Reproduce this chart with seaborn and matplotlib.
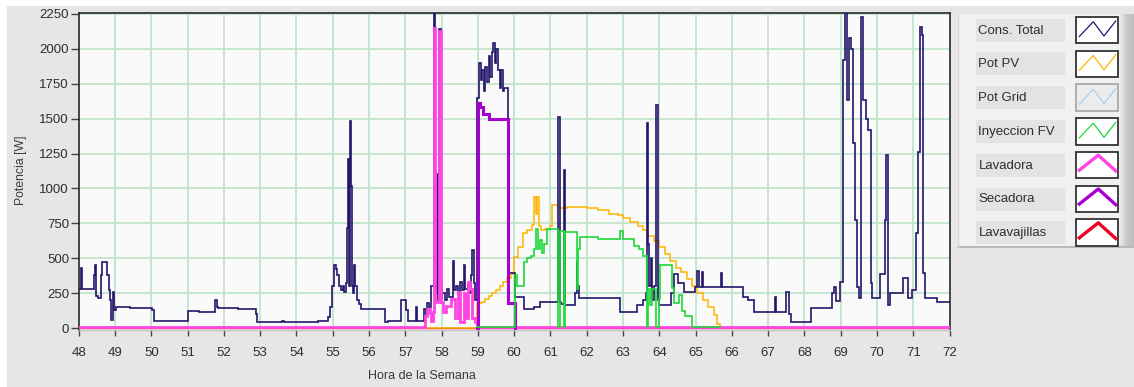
import matplotlib
matplotlib.use("Agg")
import matplotlib.pyplot as plt
from matplotlib.patches import Rectangle
from matplotlib.transforms import offset_copy
import numpy as np
import pandas as pd
import seaborn as sns

# ---------------- data: hour of the week -> power [W] (step changes) ----------------
cons_hora = [48.00, 48.06, 48.10, 48.42, 48.45, 48.48, 48.52, 48.62, 48.65, 48.78,
             48.82, 48.86, 48.90, 48.94, 48.98, 49.02, 49.40, 50.02, 50.08, 51.00,
             51.30, 51.76, 51.80, 51.84, 52.40, 52.50, 52.88, 52.92, 53.00, 53.60,
             53.65, 54.00, 54.30, 54.60, 54.86, 54.92, 54.98, 55.03, 55.08, 55.12,
             55.16, 55.22, 55.28, 55.32, 55.36, 55.39, 55.41, 55.44, 55.47, 55.49,
             55.52, 55.55, 55.58, 55.62, 55.66, 55.72, 55.78, 56.44, 56.53, 56.88,
             57.02, 57.08, 57.30, 57.33, 57.52, 57.56, 57.60, 57.65, 57.70, 57.78,
             57.83, 57.86, 57.90, 57.94, 57.97, 58.00, 58.02, 58.08, 58.14, 58.20,
             58.30, 58.33, 58.40, 58.45, 58.50, 58.55, 58.62, 58.65, 58.72, 58.78,
             58.82, 58.85, 58.88, 58.93, 58.97, 59.03, 59.08, 59.12, 59.16, 59.20,
             59.25, 59.30, 59.34, 59.38, 59.42, 59.46, 59.50, 59.55, 59.60, 59.64,
             59.68, 59.72, 59.82, 60.03, 60.26, 60.45, 60.55, 60.72, 61.20, 61.22,
             61.25, 61.30, 61.37, 61.40, 61.68, 61.72, 61.74, 61.78, 62.92, 63.38,
             63.55, 63.62, 63.67, 63.69, 63.72, 63.76, 63.80, 63.86, 63.92, 63.95,
             63.98, 64.33, 64.40, 64.52, 64.67, 64.99, 65.05, 65.08, 65.18, 65.21,
             65.70, 65.73, 66.30, 66.45, 66.62, 67.18, 67.21, 67.50, 67.56, 67.62,
             68.18, 68.76, 68.82, 68.86, 68.99, 69.07, 69.13, 69.18, 69.24, 69.29,
             69.34, 69.39, 69.44, 69.49, 69.57, 69.62, 69.70, 69.76, 69.82, 69.87,
             70.08, 70.21, 70.26, 70.29, 70.37, 70.72, 70.86, 70.95, 71.08, 71.13,
             71.18, 71.23, 71.28, 71.32, 71.66, 72.00]
cons_w = [280, 430, 280, 380, 450, 230, 215, 380, 470, 380,
          270, 200, 57, 260, 130, 152, 145, 130, 52, 125,
          115, 200, 150, 145, 135, 140, 100, 45, 40, 50,
          40, 45, 40, 50, 80, 150, 300, 450, 420, 380,
          300, 270, 300, 260, 320, 720, 1210, 300, 1480, 1020,
          300, 250, 450, 300, 200, 170, 140, 45, 52, 200,
          130, 50, 150, 50, 140, 100, 180, 150, 300, 2260,
          250, 1100, 200, 2140, 300, 200, 250, 200, 280, 220,
          480, 270, 300, 250, 330, 270, 450, 280, 300, 250,
          380, 560, 320, 200, 1650, 1900, 1780, 1850, 1700, 1870,
          1760, 1950, 1800, 1980, 2040, 1900, 2000, 1850, 1720, 1850,
          1700, 1720, 395, 225, 140, 135, 150, 185, 500, 1510,
          185, 170, 1130, 165, 250, 480, 300, 213, 117, 165,
          200, 250, 1470, 600, 300, 500, 200, 300, 1600, 200,
          165, 250, 390, 320, 260, 296, 410, 296, 400, 296,
          395, 296, 224, 200, 117, 224, 117, 260, 100, 45,
          141, 250, 296, 193, 332, 1920, 2260, 1634, 2076, 2000,
          1325, 774, 296, 215, 2231, 1634, 1500, 1420, 320, 215,
          390, 774, 1240, 165, 250, 356, 215, 270, 678, 1263,
          2160, 2100, 393, 213, 189, 189]

pv_hora = [48.00, 58.97, 59.10, 59.20, 59.30, 59.40, 59.50, 59.60, 59.70, 59.80,
           59.90, 60.00, 60.10, 60.23, 60.36, 60.50, 60.55, 60.60, 60.64, 60.68,
           60.75, 60.85, 60.98, 61.04, 61.20, 61.45, 61.70, 62.00, 62.30, 62.60,
           62.85, 63.00, 63.20, 63.40, 63.55, 63.70, 63.85, 64.00, 64.15, 64.30,
           64.45, 64.60, 64.75, 64.90, 65.05, 65.20, 65.35, 65.50, 65.60, 65.66,
           72.00]
pv_w = [0, 178, 190, 210, 230, 250, 270, 300, 330, 360,
        390, 511, 583, 680, 700, 740, 941, 820, 941, 730,
        700, 710, 730, 881, 860, 870, 865, 860, 845, 820,
        810, 790, 760, 730, 700, 660, 620, 580, 530, 480,
        430, 400, 350, 300, 250, 200, 150, 90, 30, 0,
        0]

iny_hora = [58.97, 60.03, 60.08, 60.26, 60.35, 60.45, 60.55, 60.60, 60.65, 60.70,
            60.76, 60.82, 60.90, 61.22, 61.25, 61.38, 61.41, 61.72, 61.76, 61.80,
            62.30, 62.92, 63.00, 63.30, 63.45, 63.55, 63.66, 63.69, 63.75, 63.80,
            63.92, 63.98, 64.03, 64.35, 64.40, 64.55, 64.63, 64.72, 64.90, 65.66]
iny_w = [0, 368, 296, 465, 490, 510, 560, 702, 560, 620,
         530, 590, 700, 0, 690, 0, 680, 272, 560, 643,
         630, 690, 628, 580, 560, 506, 0, 272, 157, 272,
         0, 200, 440, 275, 172, 229, 115, 81, 0, 0]

lav_hora = [48.00, 57.55, 57.60, 57.68, 57.72, 57.76, 57.80, 57.83, 57.94, 57.98,
            58.05, 58.12, 58.25, 58.37, 58.45, 58.50, 58.62, 58.66, 58.72, 58.78,
            58.83, 58.93, 58.97, 72.00]
lav_w = [0, 81, 129, 100, 45, 107, 2140, 180, 2120, 180,
         107, 150, 200, 64, 250, 35, 243, 64, 320, 272,
         64, 35, 0, 0]

sec_hora = [58.98, 58.99, 59.05, 59.15, 59.30, 59.82, 60.03]
sec_w = [0, 1610, 1580, 1530, 1500, 178, 0]

vaj_hora = [48.00, 72.00]
vaj_w = [0, 0]

series_names = ["Cons. Total", "Pot PV", "Pot Grid", "Inyeccion FV",
                "Lavadora", "Secadora", "Lavavajillas"]
series_colors = ["#24156a", "#ffb400", "#a9cdf0", "#1fd83a",
                 "#ff45e2", "#a800d0", "#ee0022"]

x_ticks = list(range(48, 73))
y_ticks = list(range(0, 2251, 250))

# ---------------- figure ----------------
plt.rcParams["font.family"] = ["Liberation Sans", "DejaVu Sans"]
W, H = 1134, 387
fig = plt.figure(figsize=(W / 100, H / 100), dpi=100)
fig.patch.set_facecolor("white")
fig.patches.append(Rectangle((7 / W, 0), 1, 1 - 6 / H, transform=fig.transFigure,
                             fc="#e6e6e6", ec="none", zorder=-10))

left_px, right_px, top_px, bot_px = 78.8, 949.6, 12.7, 330.0
ax = fig.add_axes([left_px / W, 1 - bot_px / H, (right_px - left_px) / W,
                   (bot_px - top_px) / H])
ax.set_facecolor("#fafafa")


def step_line(hora, w, color, lw, z, dy=0.0):
    df = pd.DataFrame({"hora": hora, "w": w})
    n_before = len(ax.lines)
    sns.lineplot(data=df, x="hora", y="w", estimator=None, sort=False,
                 drawstyle="steps-post", color=color, lw=lw, ax=ax, legend=False)
    line = ax.lines[n_before]
    line.set_zorder(z)
    line.set_solid_joinstyle("miter")
    if dy:
        line.set_transform(offset_copy(ax.transData, fig=fig, x=0, y=dy, units="dots"))


# dishwasher stays at zero all along: it sits under the PV trace
step_line(vaj_hora, vaj_w, series_colors[6], 1.0, 1.5)
step_line(pv_hora, pv_w, series_colors[1], 1.1, 2)
step_line(cons_hora, cons_w, series_colors[0], 1.2, 3)
step_line(lav_hora, lav_w, series_colors[4], 2.0, 4, dy=1.2)
step_line(sec_hora, sec_w, series_colors[5], 2.2, 5)
step_line(iny_hora, iny_w, series_colors[3], 1.2, 6, dy=1.2)

ax.set_xlim(48, 72)
ax.set_ylim(-14, 2259)
ax.set_xticks(x_ticks)
ax.set_yticks(y_ticks)
ax.grid(True, color="#c2e4cb", lw=1.3, zorder=0)
ax.set_axisbelow(True)
ax.set_xlabel("")
ax.set_ylabel("")

for side in ["left", "top", "right"]:
    ax.spines[side].set_color("#2b2b2b")
    ax.spines[side].set_linewidth(1.2)
ax.spines["bottom"].set_color("#c4c4c4")
ax.spines["bottom"].set_linewidth(1.0)

ax.tick_params(axis="y", direction="out", length=5.5, width=1.0, color="#444444",
               pad=1.5, labelsize=9.5, labelcolor="#2e2e2e")
ax.tick_params(axis="x", direction="out", length=4.5, width=1.0, color="#444444",
               pad=7.5, labelsize=9.5, labelcolor="#2e2e2e")

fig.text(21 / W, 1 - 170 / H, "Potencia [W]", rotation=90, ha="center", va="center",
         fontsize=8.8, color="#3a3a3a")
fig.text(422 / W, 1 - 376 / H, "Hora de la Semana", ha="center", va="center",
         fontsize=9, color="#3a3a3a")

# ---------------- legend panel (drawn in figure pixel units) ----------------
lx0, lx1, ly0, ly1 = 957, 1134, 14, 248
lg = fig.add_axes([lx0 / W, 1 - ly1 / H, (lx1 - lx0) / W, (ly1 - ly0) / H])
lg.set_xlim(lx0, lx1)
lg.set_ylim(ly1, ly0)
lg.axis("off")
lg.add_patch(Rectangle((lx0, ly0), lx1 - lx0, ly1 - ly0, fc="#f1f1f1", ec="none"))
grad = np.linspace(0, 1, 40)[None, :]
lg.imshow(grad, extent=(1119, 1134, ly1, ly0), cmap=matplotlib.colors.LinearSegmentedColormap.from_list(
    "bevel", ["#f1f1f1", "#c9c9c9", "#bdbdbd"]), aspect="auto", zorder=1)
lg.plot([lx0, lx1], [ly1 - 1, ly1 - 1], color="#b9b9b9", lw=1.5, zorder=2)
lg.plot([lx0 + 0.5, lx0 + 0.5], [ly0, ly1], color="#d6d6d6", lw=1, zorder=2)
lg.set_xlim(lx0, lx1)
lg.set_ylim(ly1, ly0)

row_step = 33.8
for i, (name, col) in enumerate(zip(series_names, series_colors)):
    yc = 30 + i * row_step
    lg.add_patch(Rectangle((976, yc - 11.5), 89, 23, fc="#e3e3e3", ec="none", zorder=2))
    lg.text(978.5, yc + 0.5, name, ha="left", va="center", fontsize=9.5, color="#2e2e2e",
            zorder=3)
    disabled = name == "Pot Grid"
    lg.add_patch(Rectangle((1076, yc - 13.3), 42, 26.6,
                           fc="#ececec" if disabled else "white",
                           ec="#a9a9a9" if disabled else "#333333", lw=1.3, zorder=3))
    if i < 4:
        xs = [1079.3, 1093.3, 1104.0, 1115.7]
        ys = [yc + 6.5, yc - 8.3, yc + 6.0, yc - 9.0]
        lg.plot(xs, ys, color=col, lw=0.9, zorder=4, solid_joinstyle="miter")
    else:
        xs = [1079.3, 1098.3, 1115.7]
        ys = [yc + 5.0, yc - 10.0, yc + 5.7]
        lg.plot(xs, ys, color=col, lw=2.4, zorder=4)

fig.savefig("out.png", dpi=100)
